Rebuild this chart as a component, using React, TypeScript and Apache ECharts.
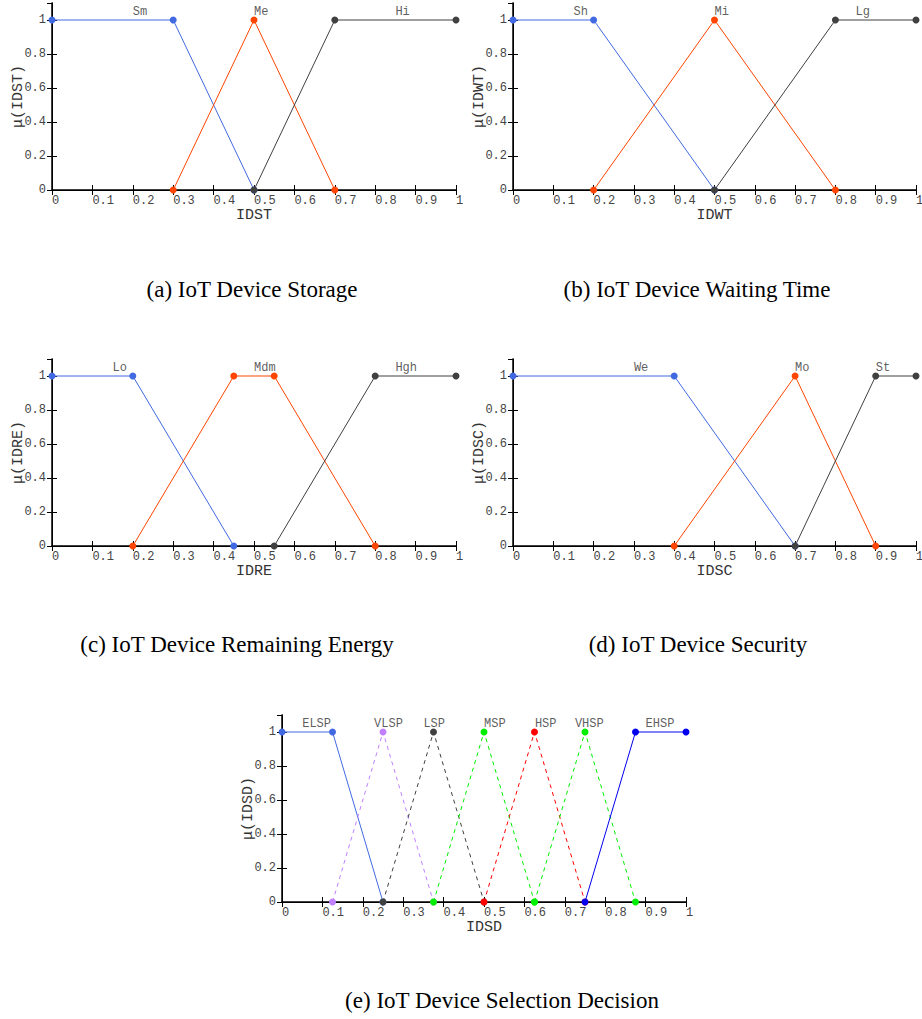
import React, { useEffect, useRef } from "react";
import * as echarts from "echarts";

// ---------- Data ----------
// (a) IoT Device Storage
const stSm = [[0, 1], [0.3, 1], [0.5, 0]];
const stMe = [[0.3, 0], [0.5, 1], [0.7, 0]];
const stHi = [[0.5, 0], [0.7, 1], [1, 1]];
const stLabels = [[0.2, 1.045, "Sm"], [0.5, 1.045, "Me"], [0.85, 1.045, "Hi"]];

// (b) IoT Device Waiting Time
const wtSh = [[0, 1], [0.2, 1], [0.5, 0]];
const wtMi = [[0.2, 0], [0.5, 1], [0.8, 0]];
const wtLg = [[0.5, 0], [0.8, 1], [1, 1]];
const wtLabels = [[0.15, 1.045, "Sh"], [0.5, 1.045, "Mi"], [0.85, 1.045, "Lg"]];

// (c) IoT Device Remaining Energy
const reLo = [[0, 1], [0.2, 1], [0.45, 0]];
const reMdm = [[0.2, 0], [0.45, 1], [0.55, 1], [0.8, 0]];
const reHgh = [[0.55, 0], [0.8, 1], [1, 1]];
const reLabels = [[0.15, 1.045, "Lo"], [0.5, 1.045, "Mdm"], [0.85, 1.045, "Hgh"]];

// (d) IoT Device Security
const scWe = [[0, 1], [0.4, 1], [0.7, 0]];
const scMo = [[0.4, 0], [0.7, 1], [0.9, 0]];
const scSt = [[0.7, 0], [0.9, 1], [1, 1]];
const scLabels = [[0.3, 1.045, "We"], [0.7, 1.045, "Mo"], [0.9, 1.045, "St"]];

// (e) IoT Device Selection Decision
const sdELSP = [[0, 1], [0.125, 1], [0.25, 0]];
const sdVLSP = [[0.125, 0], [0.25, 1], [0.375, 0]];
const sdLSP = [[0.25, 0], [0.375, 1], [0.5, 0]];
const sdMSP = [[0.375, 0], [0.5, 1], [0.625, 0]];
const sdHSP = [[0.5, 0], [0.625, 1], [0.75, 0]];
const sdVHSP = [[0.625, 0], [0.75, 1], [0.875, 0]];
const sdEHSP = [[0.75, 0], [0.875, 1], [1, 1]];
const sdLabels = [
  [0.05, 1.045, "ELSP"],
  [0.228, 1.045, "VLSP"],
  [0.35, 1.045, "LSP"],
  [0.5, 1.045, "MSP"],
  [0.626, 1.045, "HSP"],
  [0.725, 1.045, "VHSP"],
  [0.9, 1.045, "EHSP"],
];

const xNames = ["IDST", "IDWT", "IDRE", "IDSC", "IDSD"];
const yNames = ["μ(IDST)", "μ(IDWT)", "μ(IDRE)", "μ(IDSC)", "μ(IDSD)"];
const captions = [
  "(a) IoT Device Storage",
  "(b) IoT Device Waiting Time",
  "(c) IoT Device Remaining Energy",
  "(d) IoT Device Security",
  "(e) IoT Device Selection Decision",
];

// ---------- Layout / style ----------
const grids = [
  { left: 52, top: 3, width: 404, height: 187 },
  { left: 513, top: 3, width: 403, height: 187 },
  { left: 52, top: 359, width: 404, height: 187 },
  { left: 513, top: 359, width: 403, height: 187 },
  { left: 282, top: 715, width: 404, height: 187 },
];
const captionPos = [
  [252, 289],
  [697, 289],
  [237, 644],
  [698, 644],
  [502, 1000],
];

const BLUE = "#4169E1";
const RED = "#FF4500";
const GRAY = "#404040";
const MONO = '"Liberation Mono", "DejaVu Sans Mono", monospace';

function lineSeries(gi: number, data: number[][], color: string, dashed = false, width = 1) {
  return {
    type: "line",
    xAxisIndex: gi * 2,
    yAxisIndex: gi * 2,
    data,
    clip: false,
    symbol: "circle",
    symbolSize: 7,
    itemStyle: { color },
    lineStyle: { color, width, type: dashed ? [4, 4] : "solid" },
    z: 3,
  };
}

function labelSeries(gi: number, data: any[]) {
  return {
    type: "scatter",
    xAxisIndex: gi * 2,
    yAxisIndex: gi * 2,
    data,
    symbolSize: 0,
    silent: true,
    label: {
      show: true,
      position: "right",
      distance: 0,
      formatter: (p: any) => p.data[2],
      fontFamily: MONO,
      fontSize: 12,
      color: "#333",
    },
  };
}

export default function App() {
  const ref = useRef<HTMLDivElement>(null);
  useEffect(() => {
    if (!ref.current) return;
    const chart = echarts.init(ref.current, undefined, { renderer: "svg" });

    const xAxes: any[] = [];
    const yAxes: any[] = [];
    grids.forEach((_, gi) => {
      xAxes.push({
        type: "value",
        gridIndex: gi,
        min: 0,
        max: 1,
        interval: 0.1,
        position: "bottom",
        name: xNames[gi],
        nameLocation: "middle",
        nameGap: 16,
        nameTextStyle: { fontFamily: MONO, fontSize: 15, color: "#333" },
        axisLine: { show: true, lineStyle: { color: "#000", width: 1.5 } },
        axisTick: { show: true, inside: true, length: 5, lineStyle: { color: "#000" } },
        axisLabel: {
          fontFamily: MONO,
          fontSize: 12,
          color: "#444",
          align: "left",
          margin: 5,
          formatter: (v: number) => String(Math.round(v * 10) / 10),
        },
        splitLine: { show: false },
      });
      xAxes.push({
        type: "value",
        gridIndex: gi,
        min: 0,
        max: 1,
        interval: 0.1,
        position: "top",
        axisLine: { show: true, lineStyle: { color: "#000", width: 1 } },
        axisTick: { show: true, inside: true, length: 5, lineStyle: { color: "#000" } },
        axisLabel: { show: false },
        splitLine: { show: false },
      });
      yAxes.push({
        type: "value",
        gridIndex: gi,
        min: 0,
        max: 1.1,
        interval: 0.2,
        position: "left",
        name: yNames[gi],
        nameLocation: "middle",
        nameGap: 26,
        nameMoveOverlap: false,
        nameTextStyle: { fontFamily: MONO, fontSize: 15, color: "#333" },
        axisLine: { show: true, lineStyle: { color: "#000", width: 1.5 } },
        axisTick: { show: true, inside: true, length: 5, lineStyle: { color: "#000" } },
        axisLabel: {
          fontFamily: MONO,
          fontSize: 12,
          color: "#444",
          margin: 6,
          showMaxLabel: false,
          formatter: (v: number) => (v > 1.001 ? "" : String(Math.round(v * 10) / 10)),
        },
        splitLine: { show: false },
      });
      yAxes.push({
        type: "value",
        gridIndex: gi,
        min: 0,
        max: 1.1,
        interval: 0.2,
        position: "right",
        axisLine: { show: true, lineStyle: { color: "#000", width: 1 } },
        axisTick: { show: true, inside: true, length: 5, lineStyle: { color: "#000" } },
        axisLabel: { show: false },
        splitLine: { show: false },
      });
    });

    const series: any[] = [
      lineSeries(0, stSm, BLUE),
      lineSeries(0, stMe, RED),
      lineSeries(0, stHi, GRAY),
      labelSeries(0, stLabels),
      lineSeries(1, wtSh, BLUE),
      lineSeries(1, wtMi, RED),
      lineSeries(1, wtLg, GRAY),
      labelSeries(1, wtLabels),
      lineSeries(2, reLo, BLUE),
      lineSeries(2, reMdm, RED),
      lineSeries(2, reHgh, GRAY),
      labelSeries(2, reLabels),
      lineSeries(3, scWe, BLUE),
      lineSeries(3, scMo, RED),
      lineSeries(3, scSt, GRAY),
      labelSeries(3, scLabels),
      lineSeries(4, sdELSP, BLUE),
      lineSeries(4, sdVLSP, "#C080FF", true),
      lineSeries(4, sdLSP, GRAY, true),
      lineSeries(4, sdMSP, "#00EE00", true),
      lineSeries(4, sdHSP, "#FF0000", true),
      lineSeries(4, sdVHSP, "#00EE00", true),
      lineSeries(4, sdEHSP, "#0000EE"),
      labelSeries(4, sdLabels),
    ];

    chart.setOption({
      animation: false,
      backgroundColor: "#fff",
      grid: grids.map((g) => ({ ...g, containLabel: false, outerBoundsMode: "none" })),
      xAxis: xAxes,
      yAxis: yAxes,
      series,
      graphic: captions.map((t, i) => ({
        type: "text",
        x: captionPos[i][0],
        y: captionPos[i][1],
        silent: true,
        style: {
          text: t,
          fill: "#000",
          font: '23px "Liberation Serif", "Times New Roman", serif',
          align: "center",
          verticalAlign: "middle",
        },
      })),
    });
    return () => chart.dispose();
  }, []);
  return (
    <div
      ref={ref}
      style={{ position: "absolute", left: 0, top: 0, width: 922, height: 1019 }}
    />
  );
}
